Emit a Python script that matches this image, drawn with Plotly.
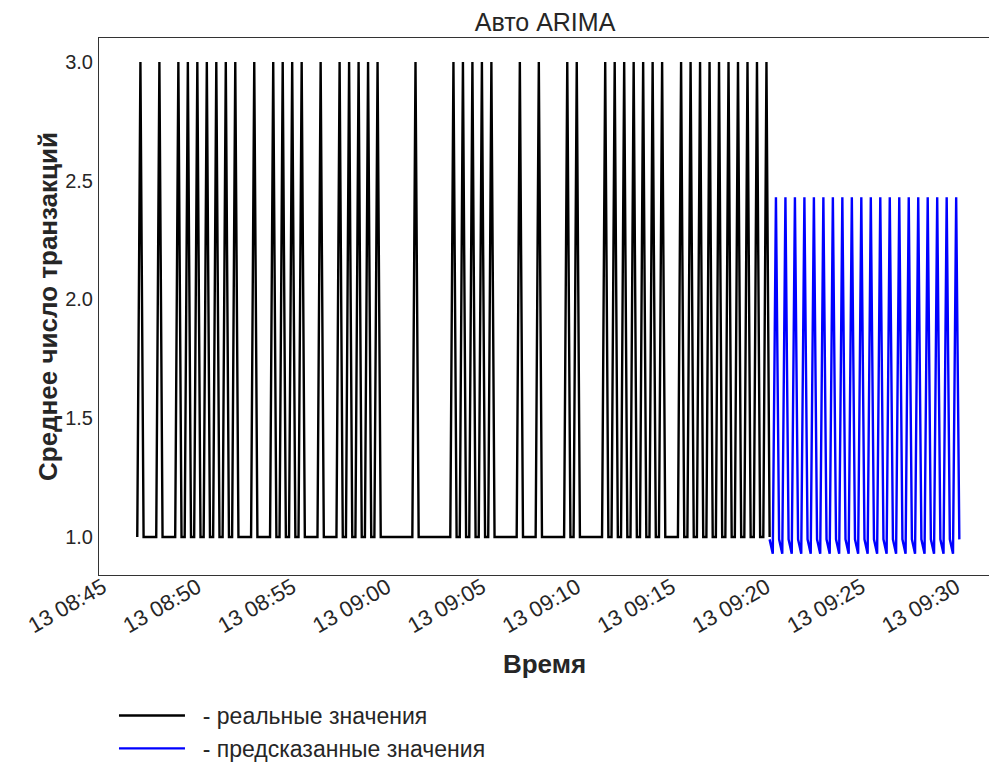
import pandas as pd
import plotly.graph_objects as go

# ---- data -------------------------------------------------------------
title_text = "Авто ARIMA"
x_title = "Время"
y_title = "Среднее число транзакций"
real_name = "- реальные значения"
forecast_name = "- предсказанные значения"

real_start = "2021-01-13 08:46:50"
forecast_start = "2021-01-13 09:20:10"
sample_step = "10s"

real_values = [
    1,
    3, 1, 1, 1, 1, 1, 3, 1, 1, 1, 1, 1, 3, 1, 1, 3, 1, 1, 3, 1, 1, 3, 1, 1, 3, 1, 1, 3, 1, 1,
    3, 1, 1, 1, 1, 1, 3, 1, 1, 1, 1, 1, 3, 1, 1, 3, 1, 1, 3, 1, 1, 3, 1, 1, 1, 1, 1, 3, 1, 1,
    1, 1, 1, 3, 1, 1, 3, 1, 1, 3, 1, 1, 3, 1, 1, 3, 1, 1, 1, 1, 1, 1, 1, 1, 1, 1, 1, 3, 1, 1,
    1, 1, 1, 1, 1, 1, 1, 1, 1, 3, 1, 1, 3, 1, 1, 3, 1, 1, 3, 1, 1, 3, 1, 1, 1, 1, 1, 1, 1, 1,
    3, 1, 1, 1, 1, 1, 3, 1, 1, 1, 1, 1, 1, 1, 1, 3, 1, 1, 3, 1, 1, 1, 1, 1, 1, 1, 1, 3, 1, 1,
    3, 1, 1, 3, 1, 1, 3, 1, 1, 3, 1, 1, 3, 1, 1, 3, 1, 1, 1, 1, 1, 3, 1, 1, 3, 1, 1, 3, 1, 1,
    3, 1, 1, 3, 1, 1, 3, 1, 1, 3, 1, 1, 3, 1, 1, 3, 1, 1, 3, 1,
]

forecast_values = [
    0.99, 0.93,
    2.43, 0.99, 0.93, 2.43, 0.99, 0.93, 2.43, 0.99, 0.93, 2.43, 0.99, 0.93,
    2.43, 0.99, 0.93, 2.43, 0.99, 0.93, 2.43, 0.99, 0.93, 2.43, 0.99, 0.93,
    2.43, 0.99, 0.93, 2.43, 0.99, 0.93, 2.43, 0.99, 0.93, 2.43, 0.99, 0.93,
    2.43, 0.99, 0.93, 2.43, 0.99, 0.93, 2.43, 0.99, 0.93, 2.43, 0.99, 0.93,
    2.43, 0.99, 0.93, 2.43, 0.99, 0.93, 2.43, 0.99, 0.93,
    2.43, 0.99,
]

y_ticks = [1.0, 1.5, 2.0, 2.5, 3.0]

# ---- build ------------------------------------------------------------
real_times = pd.date_range(real_start, periods=len(real_values), freq=sample_step)
forecast_times = pd.date_range(forecast_start, periods=len(forecast_values), freq=sample_step)

FONT = "Arial, Liberation Sans, sans-serif"
TXT = "#262626"
PAD = "\u00a0\u00a0"

fig = go.Figure()
fig.add_trace(go.Scatter(x=real_times, y=real_values, mode="lines",
                         line=dict(color="black", width=2.4), name=PAD + real_name))
fig.add_trace(go.Scatter(x=forecast_times, y=forecast_values, mode="lines",
                         line=dict(color="#0000ff", width=2.4), name=PAD + forecast_name))

# page has an 8px body margin, so the figure is sized/offset to compensate
fig.update_layout(
    width=989, height=761,
    margin=dict(l=91, r=7, t=30, b=194, autoexpand=False),
    paper_bgcolor="white", plot_bgcolor="white",
    font=dict(family=FONT, color=TXT, size=20),
    title=dict(text=title_text, x=0.543, xanchor="center", y=0.9816, yanchor="middle",
               font=dict(size=25, color=TXT)),
    showlegend=True,
    legend=dict(x=0.0168, xanchor="left", y=-0.2216, yanchor="top",
                font=dict(size=23, color=TXT), tracegroupgap=0,
                bgcolor="rgba(0,0,0,0)", itemwidth=66),
)
fig.update_xaxes(
    range=["2021-01-13 08:44:49", "2021-01-13 09:31:47"],
    tickformat="%d %H:%M", dtick=300000, tick0="2021-01-13 08:45:00",
    tickangle=-30, tickfont=dict(size=22, color=TXT), automargin=False,
    ticklabelstandoff=-10,
    showgrid=False, zeroline=False, showline=True, mirror=True,
    linecolor="#333333", linewidth=1, ticks="",
    title=dict(text="<b>" + x_title + "</b>", font=dict(size=26, color=TXT), standoff=17),
)
fig.update_yaxes(
    range=[0.84, 3.101], tickvals=y_ticks, tickformat=".1f",
    tickfont=dict(size=20, color=TXT), ticklabelstandoff=1, automargin=False,
    showgrid=False, zeroline=False, showline=True, mirror=True,
    linecolor="#333333", linewidth=1, ticks="",
    title=dict(text="<b>" + y_title + "</b>", font=dict(size=26, color=TXT), standoff=0),
)

fig.write_html("out.html")
